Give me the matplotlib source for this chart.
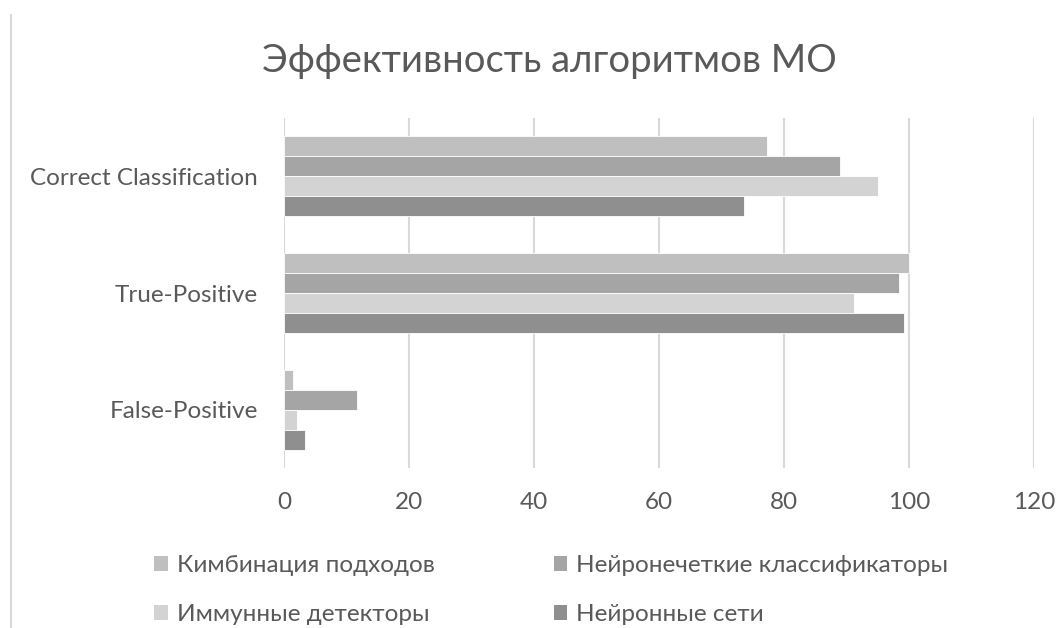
import matplotlib
matplotlib.use("Agg")
import matplotlib.pyplot as plt
from matplotlib.patches import Patch
from matplotlib.lines import Line2D

categories = ["Correct Classification", "True-Positive", "False-Positive"]
series_names = ["Кимбинация подходов", "Нейронечеткие классификаторы",
                "Иммунные детекторы", "Нейронные сети"]
combo = [77.2, 100.0, 1.4]
neurofuzzy = [89.0, 98.4, 11.7]
immune = [95.0, 91.2, 2.1]
neural = [73.6, 99.2, 3.4]
x_ticks = [0, 20, 40, 60, 80, 100, 120]

colors = ["#bfbfbf", "#a5a5a5", "#d3d3d3", "#8f8f8f"]
series = [combo, neurofuzzy, immune, neural]

plt.rcParams['font.family'] = ['Lato', 'DejaVu Sans']
txt = "#595959"
fs = 17.5

fig = plt.figure(figsize=(10.56, 6.28), dpi=100)
ax = fig.add_axes([284/1056, 1-468/628, 750/1056, 350/628])

bh = 0.172
for i, (vals, c) in enumerate(zip(series, colors)):
    ys = [k + (i - 1.5) * bh for k in range(len(categories))]
    ax.barh(ys, vals, height=bh, color=c, edgecolor="white", linewidth=0.6, zorder=3)

ax.set_ylim(2.5, -0.5)
ax.set_xlim(0, 120)
ax.set_xticks(x_ticks)
ax.set_yticks(range(len(categories)))
ax.set_yticklabels(categories)
ax.grid(axis="x", color="#d9d9d9", linewidth=1.5, zorder=0)
for s in ax.spines.values():
    s.set_visible(False)
ax.tick_params(axis="both", length=0, colors=txt, labelsize=fs)
ax.tick_params(axis="x", pad=17)
ax.tick_params(axis="y", pad=18.7)

fig.text(549/1056, 1-61/628, "Эффективность алгоритмов МО", ha="center", va="center",
         fontsize=27.5, color=txt)

# frame line on the left
fig.add_artist(Line2D([10.5/1056, 10.5/1056], [0, 1-15/628], transform=fig.transFigure,
                      color="#d9d9d9", linewidth=1.5))

order = [0, 2, 1, 3]
handles = [Patch(facecolor=colors[i], edgecolor="none", label=series_names[i]) for i in order]
fig.legend(handles=handles, ncol=2, loc="center left",
           bbox_to_anchor=(144/1056, 1-590/628), frameon=False, fontsize=fs,
           labelcolor=txt, handlelength=0.57, handleheight=0.57, handletextpad=0.37,
           columnspacing=4.9, labelspacing=1.14, borderaxespad=0)

fig.savefig("out.png", dpi=100, facecolor="white")
